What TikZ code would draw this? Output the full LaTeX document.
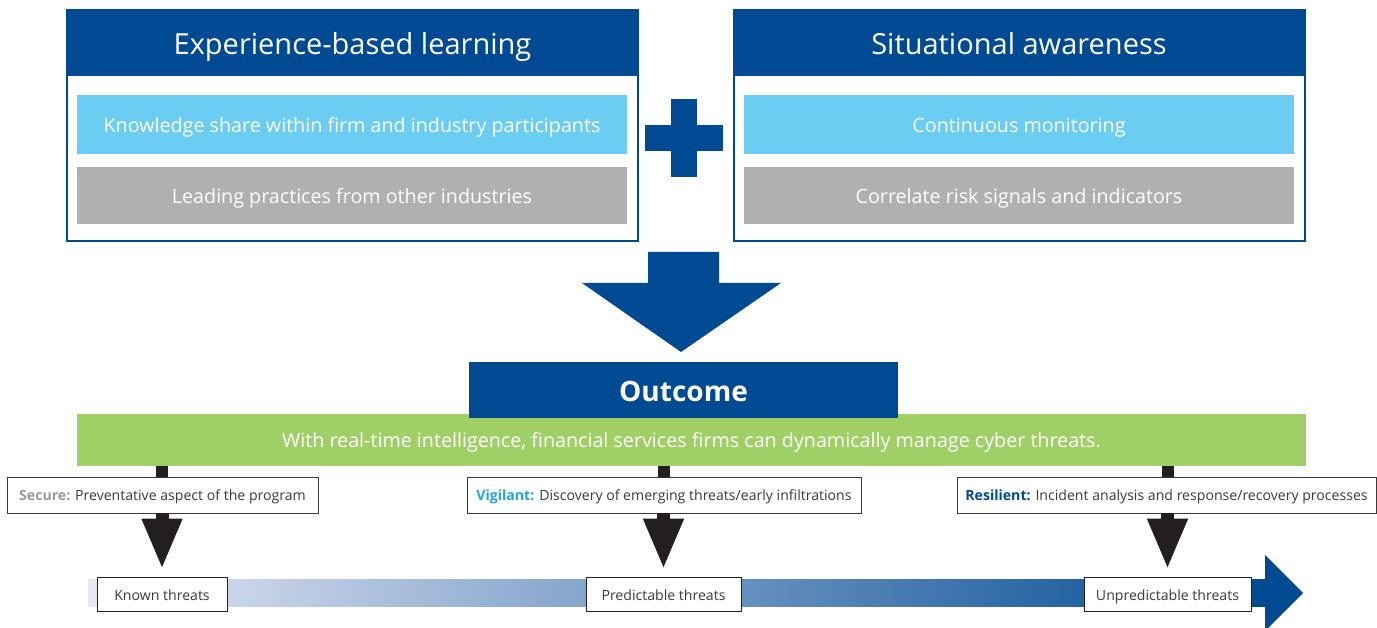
\documentclass[tikz,border=0pt]{standalone}
\usepackage{fontspec}
\setmainfont{Open Sans}
\usetikzlibrary{arrows.meta,calc}
\definecolor{dblue}{HTML}{004A93}
\definecolor{lblue}{HTML}{6CCDF2}
\definecolor{lgray}{HTML}{B1AFB0}
\definecolor{lgreen}{HTML}{A0CF67}
\definecolor{vblue}{HTML}{1EA5DC}
\definecolor{sgray}{HTML}{9A9A9A}
\definecolor{tgray}{HTML}{3A3A3A}
\definecolor{nblack}{HTML}{231F20}
\definecolor{gradL}{HTML}{E6E8F4}
\definecolor{gradM}{HTML}{5C6EB2}
\tikzset{
  frame/.style={draw=dblue,line width=2pt,fill=white,minimum width=571pt,minimum height=231pt,inner sep=0pt},
  header/.style={fill=dblue,text=white,minimum width=571pt,minimum height=66pt,inner sep=0pt,text height=27pt,text depth=3pt,font=\fontsize{29}{34}\selectfont},
  rowb/.style={fill=lblue,text=white,minimum width=550pt,minimum height=59pt,inner sep=0pt,text height=18pt,text depth=2pt,font=\fontsize{19.7}{24}\selectfont},
  rowg/.style={fill=lgray,text=white,minimum width=550pt,minimum height=57pt,inner sep=0pt,text height=18pt,text depth=2pt,font=\fontsize{19.7}{24}\selectfont},
  labbox/.style={draw=tgray,line width=0.8pt,fill=white,text=tgray,minimum height=36pt,inner sep=0pt,text height=12pt,text depth=1pt,font=\fontsize{14.1}{17}\selectfont},
  threat/.style={draw=nblack,line width=0.8pt,fill=white,text=tgray,minimum height=34pt,inner sep=0pt,text height=13pt,text depth=0pt,font=\fontsize{14.1}{17}\selectfont},
  stem/.style={draw=nblack,line width=12pt},
  bigarrow/.style={draw=nblack,line width=13pt,-{Triangle[width=37pt,length=51pt]},shorten >=7pt},
}
\begin{document}
\begin{tikzpicture}[x=1pt,y=-1pt]
\useasboundingbox (0,0) rectangle (1377,628);
% left block
\node[frame] (lframe) at (352.5,125.5) {};
\node[header] (lhead) at (352.5,43) {Experience-based learning};
\node[rowb] (lrow1) at (352,124.5) {Knowledge share within firm and industry participants};
\node[rowg] (lrow2) at (352,195.5) {Leading practices from other industries};
% right block
\node[frame] (rframe) at (1019,125.5) {};
\node[header] (rhead) at (1019,43) {Situational awareness};
\node[rowb] (rrow1) at (1019,124.5) {Continuous monitoring};
\node[rowg] (rrow2) at (1019,195.5) {Correlate risk signals and indicators};
% plus
\fill[dblue] (671,99) rectangle (697,177);
\fill[dblue] (645,125) rectangle (723,151);
% big down arrow
\fill[dblue] (648,252) -- (719,252) -- (719,283) -- (781,283) -- (681,352) -- (582,283) -- (648,283) -- cycle;
% green bar and outcome
\node[fill=lgreen,text=white,minimum width=1229pt,minimum height=51pt,inner sep=0pt,text height=15pt,text depth=1pt,font=\fontsize{19.7}{24}\selectfont] (green) at (691.5,440) {With real-time intelligence, financial services firms can dynamically manage cyber threats.};
\node[fill=dblue,text=white,minimum width=429pt,minimum height=56pt,inner sep=0pt,text height=25pt,text depth=1pt,font=\fontsize{28}{32}\selectfont\bfseries] (outcome) at (683.5,390) {Outcome};
% gradient arrow
\shade[left color=gradL,middle color=gradM,right color=dblue] (88,579) rectangle (1266,606);
\fill[dblue] (1265,555) -- (1303,593) -- (1265,631) -- cycle;
% label boxes
\node[labbox,minimum width=311pt] (secure) at (162.5,495) {\textcolor{sgray}{\bfseries Secure:} Preventative aspect of the program};
\node[labbox,minimum width=394pt] (vigil) at (664,495) {\textcolor{vblue}{\bfseries Vigilant:} Discovery of emerging threats/early infiltrations};
\node[labbox,minimum width=419pt] (resil) at (1166.5,495) {\textcolor{dblue}{\bfseries Resilient:} Incident analysis and response/recovery processes};
% threat boxes
\node[threat,minimum width=130pt] (known) at (162,594) {Known threats};
\node[threat,minimum width=155pt] (pred) at (663.5,594) {Predictable threats};
\node[threat,minimum width=167pt] (unpred) at (1167.5,594) {Unpredictable threats};
% stems
\draw[stem] (known.north |- green.south) -- (known.north |- secure.north);
\draw[stem] (pred.north |- green.south) -- (pred.north |- vigil.north);
\draw[stem] (unpred.north |- green.south) -- (unpred.north |- resil.north);
% arrows
\draw[bigarrow] (known.north |- secure.south) -- (known.north);
\draw[bigarrow] (pred.north |- vigil.south) -- (pred.north);
\draw[bigarrow] (unpred.north |- resil.south) -- (unpred.north);
\end{tikzpicture}
\end{document}
